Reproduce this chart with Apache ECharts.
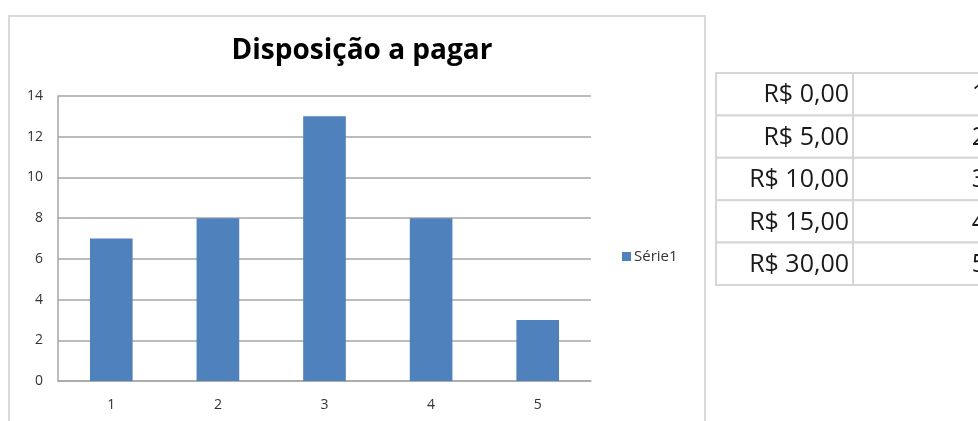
<!DOCTYPE html>
<html>
<head>
<meta charset="utf-8">
<script src="https://cdn.jsdelivr.net/npm/echarts@6/dist/echarts.min.js"></script>
<style>
  html, body { margin: 0; padding: 0; background: #fff; }
  #chart { width: 978px; height: 421px; }
</style>
</head>
<body>
<div id="chart"></div>
<script>
// dados do gráfico
const categories = ['1', '2', '3', '4', '5']
const serie1 = [7, 8, 13, 8, 3]
const yTicks = { min: 0, max: 14, interval: 2 }

// tabela ao lado
const precos = ['R$ 0,00', 'R$ 5,00', 'R$ 10,00', 'R$ 15,00', 'R$ 30,00']
const indices = ['1', '2', '3', '4', '5']

const chart = echarts.init(document.getElementById('chart'))

const font = 'Open Sans'
const tableTop = 73
const rowH = 42.4
const colX = [716, 853, 990]

// monta a tabela como elementos gráficos
const tabela = []
precos.forEach((p, i) => {
  const y = tableTop + i * rowH
  tabela.push({
    type: 'rect',
    shape: { x: colX[0], y: y, width: colX[1] - colX[0], height: rowH },
    style: { fill: '#fff', stroke: '#d6d6d6', lineWidth: 2 }
  })
  tabela.push({
    type: 'rect',
    shape: { x: colX[1], y: y, width: colX[2] - colX[1], height: rowH },
    style: { fill: '#fff', stroke: '#d6d6d6', lineWidth: 2 }
  })
  tabela.push({
    type: 'text',
    style: {
      x: colX[1] - 4, y: y + rowH / 2 + 1, text: p,
      align: 'right', verticalAlign: 'middle',
      font: '25px "' + font + '"', fill: '#1a1a1a'
    }
  })
  tabela.push({
    type: 'text',
    style: {
      x: 986, y: y + rowH / 2 + 1, text: indices[i],
      align: 'right', verticalAlign: 'middle',
      font: '25px "' + font + '"', fill: '#1a1a1a'
    }
  })
})

const option = {
  backgroundColor: '#fff',
  animation: false,
  textStyle: { fontFamily: font },
  title: {
    text: 'Disposição a pagar',
    left: 357,
    textAlign: 'center',
    top: 32,
    textStyle: { fontSize: 28, fontWeight: 'bold', color: '#000', fontFamily: font }
  },
  legend: {
    data: ['Série1'],
    left: 617,
    top: 244,
    itemWidth: 9,
    itemHeight: 9,
    itemGap: 4,
    icon: 'rect',
    textStyle: { fontSize: 15, color: '#333', padding: [0, 0, 0, -2] }
  },
  grid: { left: 58, right: 387, top: 96, bottom: 40 },
  xAxis: {
    type: 'category',
    data: categories,
    axisLine: { lineStyle: { color: '#a6a6a6', width: 1.5 } },
    axisTick: { show: false },
    axisLabel: { color: '#333', fontSize: 14, margin: 17 }
  },
  yAxis: {
    type: 'value',
    min: yTicks.min,
    max: yTicks.max,
    interval: yTicks.interval,
    axisLine: { show: true, lineStyle: { color: '#a6a6a6', width: 1.5 } },
    axisTick: { show: false },
    axisLabel: { color: '#333', fontSize: 14, margin: 15 },
    splitLine: { lineStyle: { color: '#a6a6a6', width: 1.5 } }
  },
  series: [{
    name: 'Série1',
    type: 'bar',
    data: serie1,
    barWidth: '40%',
    itemStyle: { color: '#4f81bd' }
  }],
  graphic: [
    {
      type: 'rect',
      z: -1,
      shape: { x: 9, y: 16, width: 696, height: 430 },
      style: { fill: 'none', stroke: '#d9d9d9', lineWidth: 2 }
    }
  ].concat(tabela)
}

chart.setOption(option)
</script>
</body>
</html>
